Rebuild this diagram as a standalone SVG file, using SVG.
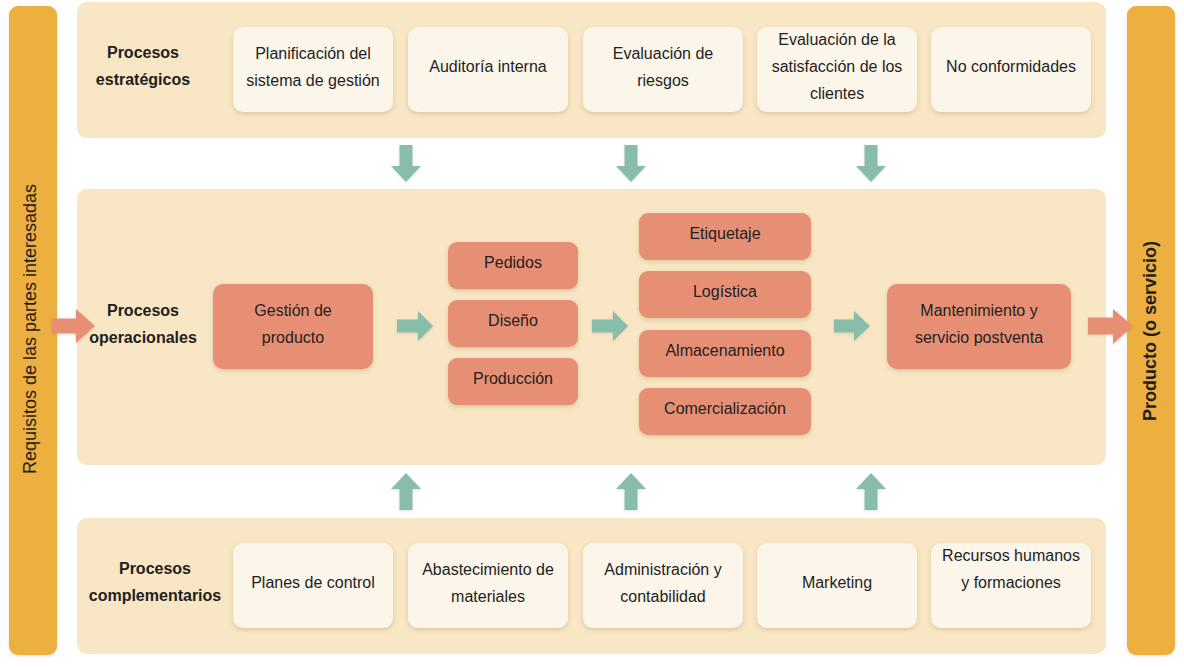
<svg xmlns="http://www.w3.org/2000/svg" width="1184" height="667" viewBox="0 0 1184 667">
<defs>
<filter id="sh" x="-20%" y="-20%" width="140%" height="150%">
<feDropShadow dx="0" dy="2" stdDeviation="2" flood-color="#7a5a20" flood-opacity="0.22"/>
</filter>
<filter id="shs" x="-20%" y="-20%" width="140%" height="150%">
<feDropShadow dx="0" dy="1" stdDeviation="1.5" flood-color="#000" flood-opacity="0.12"/>
</filter>
</defs>
<style>
text{font-family:"Liberation Sans",Arial,Helvetica,sans-serif;font-size:16px;fill:#1e1e1e;text-anchor:middle;dominant-baseline:central}
.b{font-weight:bold}
.bar{fill:#EDAF3F}
.panel{fill:#F8E6C4}
.lt{fill:#FBF5EA}
.sal{fill:#E78F75}
.grn{fill:#88BDA9}
.big{font-size:18px}
</style>
<rect width="1184" height="667" fill="#ffffff"/>

<g id="bar-left"><rect class="bar" x="9" y="6" width="48" height="649" rx="9" filter="url(#shs)"/>
<text class="big" transform="translate(30 329) rotate(-90)">Requisitos de las partes interesadas</text></g>
<g id="bar-right"><rect class="bar" x="1127" y="6" width="48" height="649" rx="9" filter="url(#shs)"/>
<text class="big b" transform="translate(1150 331) rotate(-90)">Producto (o servicio)</text></g>

<g id="panel-top"><rect class="panel" x="77" y="2" width="1029" height="136" rx="10"/>
<text class="b" x="143" y="52">Procesos</text><text class="b" x="143" y="79">estratégicos</text></g>
<g id="panel-mid"><rect class="panel" x="77" y="189" width="1029" height="276" rx="10"/>
<text class="b" x="143" y="310">Procesos</text><text class="b" x="143" y="337">operacionales</text></g>
<g id="panel-bot"><rect class="panel" x="77" y="518" width="1029" height="136" rx="10"/>
<text class="b" x="155" y="568">Procesos</text><text class="b" x="155" y="595">complementarios</text></g>

<g id="n-planificacion"><rect class="lt" x="233" y="27" width="160" height="85" rx="10" filter="url(#sh)"/><text x="313" y="53">Planificación del</text><text x="313" y="80">sistema de gestión</text></g>
<g id="n-auditoria"><rect class="lt" x="408" y="27" width="160" height="85" rx="10" filter="url(#sh)"/><text x="488" y="66">Auditoría interna</text></g>
<g id="n-riesgos"><rect class="lt" x="583" y="27" width="160" height="85" rx="10" filter="url(#sh)"/><text x="663" y="53">Evaluación de</text><text x="663" y="80">riesgos</text></g>
<g id="n-satisfaccion"><rect class="lt" x="757" y="27" width="160" height="85" rx="10" filter="url(#sh)"/><text x="837" y="39">Evaluación de la</text><text x="837" y="66">satisfacción de los</text><text x="837" y="93">clientes</text></g>
<g id="n-noconf"><rect class="lt" x="931" y="27" width="160" height="85" rx="10" filter="url(#sh)"/><text x="1011" y="66">No conformidades</text></g>

<g id="n-gestion"><rect class="sal" x="213" y="284" width="160" height="85" rx="10" filter="url(#sh)"/><text x="293" y="310">Gestión de</text><text x="293" y="337">producto</text></g>
<g id="n-pedidos"><rect class="sal" x="448" y="242" width="130" height="47" rx="9" filter="url(#sh)"/><text x="513" y="262">Pedidos</text></g>
<g id="n-diseno"><rect class="sal" x="448" y="300" width="130" height="47" rx="9" filter="url(#sh)"/><text x="513" y="320">Diseño</text></g>
<g id="n-produccion"><rect class="sal" x="448" y="358" width="130" height="47" rx="9" filter="url(#sh)"/><text x="513" y="378">Producción</text></g>
<g id="n-etiquetaje"><rect class="sal" x="639" y="213" width="172" height="47" rx="9" filter="url(#sh)"/><text x="725" y="233">Etiquetaje</text></g>
<g id="n-logistica"><rect class="sal" x="639" y="271" width="172" height="47" rx="9" filter="url(#sh)"/><text x="725" y="291">Logística</text></g>
<g id="n-almacen"><rect class="sal" x="639" y="330" width="172" height="47" rx="9" filter="url(#sh)"/><text x="725" y="350">Almacenamiento</text></g>
<g id="n-comercial"><rect class="sal" x="639" y="388" width="172" height="47" rx="9" filter="url(#sh)"/><text x="725" y="408">Comercialización</text></g>
<g id="n-mantenimiento"><rect class="sal" x="887" y="284" width="184" height="85" rx="10" filter="url(#sh)"/><text x="979" y="310">Mantenimiento y</text><text x="979" y="337">servicio postventa</text></g>

<g id="n-planes"><rect class="lt" x="233" y="543" width="160" height="85" rx="10" filter="url(#sh)"/><text x="313" y="582">Planes de control</text></g>
<g id="n-abastecimiento"><rect class="lt" x="408" y="543" width="160" height="85" rx="10" filter="url(#sh)"/><text x="488" y="569">Abastecimiento de</text><text x="488" y="596">materiales</text></g>
<g id="n-administracion"><rect class="lt" x="583" y="543" width="160" height="85" rx="10" filter="url(#sh)"/><text x="663" y="569">Administración y</text><text x="663" y="596">contabilidad</text></g>
<g id="n-marketing"><rect class="lt" x="757" y="543" width="160" height="85" rx="10" filter="url(#sh)"/><text x="837" y="582">Marketing</text></g>
<g id="n-rrhh"><rect class="lt" x="931" y="543" width="160" height="85" rx="10" filter="url(#sh)"/><text x="1011" y="555">Recursos humanos</text><text x="1011" y="582">y formaciones</text></g>

<g id="connectors" filter="url(#shs)">
<polygon class="grn" points="399.5,145 412.5,145 412.5,166 421,166 406,182 391,166 399.5,166"/>
<polygon class="grn" points="624.5,145 637.5,145 637.5,166 646,166 631,182 616,166 624.5,166"/>
<polygon class="grn" points="864.5,145 877.5,145 877.5,166 886,166 871,182 856,166 864.5,166"/>
<polygon class="grn" points="399.5,510 412.5,510 412.5,489 421,489 406,473 391,489 399.5,489"/>
<polygon class="grn" points="624.5,510 637.5,510 637.5,489 646,489 631,473 616,489 624.5,489"/>
<polygon class="grn" points="864.5,510 877.5,510 877.5,489 886,489 871,473 856,489 864.5,489"/>
<polygon class="grn" points="397,319.5 418,319.5 418,311 433,326 418,341 418,332.5 397,332.5"/>
<polygon class="grn" points="592,319.5 613,319.5 613,311 628,326 613,341 613,332.5 592,332.5"/>
<polygon class="grn" points="834,319.5 854,319.5 854,311 870,326 854,341 854,332.5 834,332.5"/>
<polygon class="sal" points="52,318.5 76,318.5 76,309 95,326 76,343 76,333.5 52,333.5"/>
<polygon class="sal" points="1088,317.5 1113,317.5 1113,309 1133,326 1113,344 1113,334.5 1088,334.5"/>
</g>
</svg>
